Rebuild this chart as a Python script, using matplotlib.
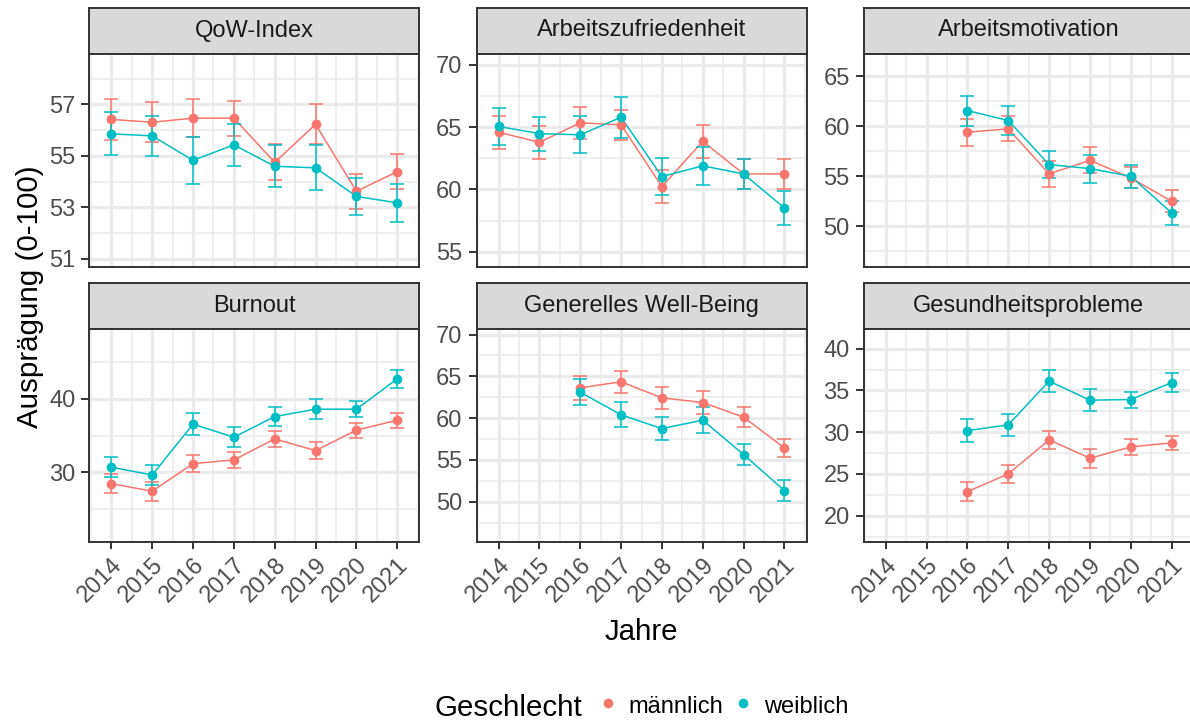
import matplotlib

matplotlib.use("Agg")
import matplotlib.pyplot as plt
import numpy as np
from matplotlib.lines import Line2D
from matplotlib.ticker import FixedLocator

# ──── PLOT SETTINGS ──────────────────────────────────────────────────────────

plt.rcParams.update(
    {
        "font.family": ["Liberation Sans", "DejaVu Sans"],
        "axes.edgecolor": "#333333",
        "axes.linewidth": 1.4,
        "xtick.color": "#333333",
        "ytick.color": "#333333",
        "xtick.labelcolor": "#4D4D4D",
        "ytick.labelcolor": "#4D4D4D",
    }
)
col_m = "#F8766D"
col_w = "#00BFC4"
small = 17
big = 21.25

W, H = 1190, 720

# ──── DATA ───────────────────────────────────────────────────────────────────

years_all = [2014, 2015, 2016, 2017, 2018, 2019, 2020, 2021]
years_late = [2016, 2017, 2018, 2019, 2020, 2021]
year_labels = [str(y) for y in years_all]

panel_titles = [
    "QoW-Index",
    "Arbeitszufriedenheit",
    "Arbeitsmotivation",
    "Burnout",
    "Generelles Well-Being",
    "Gesundheitsprobleme",
]
sex_labels = ["männlich", "weiblich"]

qow_m = [56.42, 56.31, 56.47, 56.47, 54.75, 56.23, 53.63, 54.39]
qow_m_err = [0.80, 0.77, 0.74, 0.68, 0.70, 0.77, 0.67, 0.67]
qow_w = [55.86, 55.78, 54.83, 55.43, 54.60, 54.54, 53.43, 53.18]
qow_w_err = [0.84, 0.77, 0.91, 0.83, 0.82, 0.87, 0.73, 0.74]

az_m = [64.60, 63.79, 65.35, 65.19, 60.23, 63.87, 61.25, 61.25]
az_m_err = [1.31, 1.31, 1.26, 1.23, 1.34, 1.31, 1.21, 1.18]
az_w = [65.06, 64.49, 64.39, 65.80, 61.04, 61.90, 61.25, 58.52]
az_w_err = [1.47, 1.37, 1.50, 1.65, 1.49, 1.53, 1.21, 1.34]

am_m = [59.40, 59.74, 55.23, 56.59, 54.83, 52.49]
am_m_err = [1.37, 1.24, 1.29, 1.29, 1.04, 1.09]
am_w = [61.57, 60.57, 56.16, 55.76, 54.99, 51.32]
am_w_err = [1.50, 1.45, 1.37, 1.40, 1.14, 1.17]

bo_m = [28.44, 27.41, 31.17, 31.68, 34.54, 32.95, 35.73, 37.09]
bo_m_err = [1.27, 1.27, 1.18, 1.11, 1.11, 1.14, 1.00, 1.00]
bo_w = [30.68, 29.63, 36.55, 34.77, 37.59, 38.59, 38.59, 42.73]
bo_w_err = [1.34, 1.34, 1.46, 1.39, 1.32, 1.34, 1.11, 1.20]

wb_m = [63.63, 64.35, 62.43, 61.87, 60.12, 56.44]
wb_m_err = [1.40, 1.34, 1.34, 1.36, 1.18, 1.08]
wb_w = [63.11, 60.40, 58.75, 59.76, 55.64, 51.33]
wb_w_err = [1.54, 1.48, 1.40, 1.54, 1.28, 1.22]

gp_m = [22.88, 25.00, 29.08, 26.88, 28.24, 28.72]
gp_m_err = [1.10, 1.06, 1.08, 1.16, 0.92, 0.86]
gp_w = [30.19, 30.88, 36.12, 33.84, 33.91, 35.95]
gp_w_err = [1.40, 1.30, 1.28, 1.34, 0.96, 1.10]

# per panel: years, series, y limits, major y ticks
panels = [
    (years_all, qow_m, qow_m_err, qow_w, qow_w_err, (50.7, 58.98), [51, 53, 55, 57]),
    (years_all, az_m, az_m_err, az_w, az_w_err, (53.8, 70.92), [55, 60, 65, 70]),
    (years_late, am_m, am_m_err, am_w, am_w_err, (45.94, 67.28), [50, 55, 60, 65]),
    (years_all, bo_m, bo_m_err, bo_w, bo_w_err, (20.53, 49.48), [30, 40]),
    (years_late, wb_m, wb_m_err, wb_w, wb_w_err, (45.22, 70.63), [50, 55, 60, 65, 70]),
    (years_late, gp_m, gp_m_err, gp_w, gp_w_err, (16.88, 42.33), [20, 25, 30, 35, 40]),
]

# ──── LAYOUT (pixels) ────────────────────────────────────────────────────────

col_left = [89.3, 476.5, 863.7]
col_width = 330
rows = [(7.5, 53.5, 266.7), (283.3, 329.3, 541.7)]  # strip top, panel top, panel bottom


def px_axes(fig, x0, y0, x1, y1):
    return fig.add_axes([x0 / W, 1 - y1 / H, (x1 - x0) / W, (y1 - y0) / H])


fig = plt.figure(figsize=(W / 100, H / 100), dpi=100)
fig.patch.set_facecolor("white")

for i, (yrs, m, m_err, w, w_err, ylim, yticks) in enumerate(panels):
    r, c = divmod(i, 3)
    x0 = col_left[c]
    x1 = x0 + col_width
    s_top, p_top, p_bot = rows[r]

    # strip
    sax = px_axes(fig, x0, s_top, x1, p_top)
    sax.set_facecolor("#D9D9D9")
    sax.set_xticks([])
    sax.set_yticks([])
    sax.text(0.5, 0.5, panel_titles[i], ha="center", va="center", fontsize=small,
             color="#1A1A1A", transform=sax.transAxes)

    ax = px_axes(fig, x0, p_top, x1, p_bot)
    ax.set_facecolor("white")
    ax.set_xlim(2013.46, 2021.54)
    ax.set_ylim(*ylim)

    step = yticks[1] - yticks[0]
    ax.yaxis.set_major_locator(FixedLocator(yticks))
    ax.yaxis.set_minor_locator(FixedLocator(np.arange(yticks[0] - step * 1.5, yticks[-1] + step, step)))
    ax.xaxis.set_major_locator(FixedLocator(years_all))
    ax.xaxis.set_minor_locator(FixedLocator(np.arange(2013.5, 2022, 1.0)))
    ax.grid(which="major", color="#EBEBEB", linewidth=2.3, zorder=0)
    ax.grid(which="minor", color="#EBEBEB", linewidth=1.15, zorder=0)
    ax.set_axisbelow(True)
    ax.tick_params(which="minor", length=0)
    ax.tick_params(axis="y", which="major", length=5.6, width=1.4, pad=4.5, labelsize=small)
    if r == 1:
        ax.set_xticklabels(year_labels)
        ax.tick_params(axis="x", which="major", length=5, width=1.4, pad=4, labelsize=small)
        for lab in ax.get_xticklabels():
            lab.set_rotation(45)
            lab.set_ha("right")
            lab.set_va("top")
            lab.set_rotation_mode("anchor")
    else:
        ax.tick_params(axis="x", which="major", length=0, labelbottom=False)

    for vals, errs, col, z in [(m, m_err, col_m, 3), (w, w_err, col_w, 4)]:
        ax.errorbar(yrs, vals, yerr=errs, fmt="none", ecolor=col, elinewidth=1.1,
                    capsize=4.8, capthick=1.1, zorder=z)
        ax.plot(yrs, vals, color=col, linewidth=1.1, zorder=z)
        ax.plot(yrs, vals, "o", color=col, markersize=7, markeredgewidth=0, zorder=z + 2)

# ──── TITLES & LEGEND ────────────────────────────────────────────────────────

fig.text(30 / W, 1 - 297 / H, "Ausprägung (0-100)", rotation=90, ha="center", va="center",
         fontsize=big, color="black")
fig.text(641.5 / W, 1 - 632 / H, "Jahre", ha="center", va="center", fontsize=big, color="black")

fig.text(435 / W, 1 - 715.5 / H, "Geschlecht", ha="left", va="baseline", fontsize=big, color="black")
for x_dot, x_txt, col, lab in [(607.7, 628.5, col_m, sex_labels[0]), (743.3, 764.5, col_w, sex_labels[1])]:
    fig.add_artist(Line2D([x_dot / W], [1 - 702.7 / H], transform=fig.transFigure, marker="o",
                          markersize=7, markeredgewidth=0, color=col, linestyle="none"))
    fig.text(x_txt / W, 1 - 713.3 / H, lab, ha="left", va="baseline", fontsize=small, color="black")

fig.savefig("out.png", dpi=100, facecolor="white")
